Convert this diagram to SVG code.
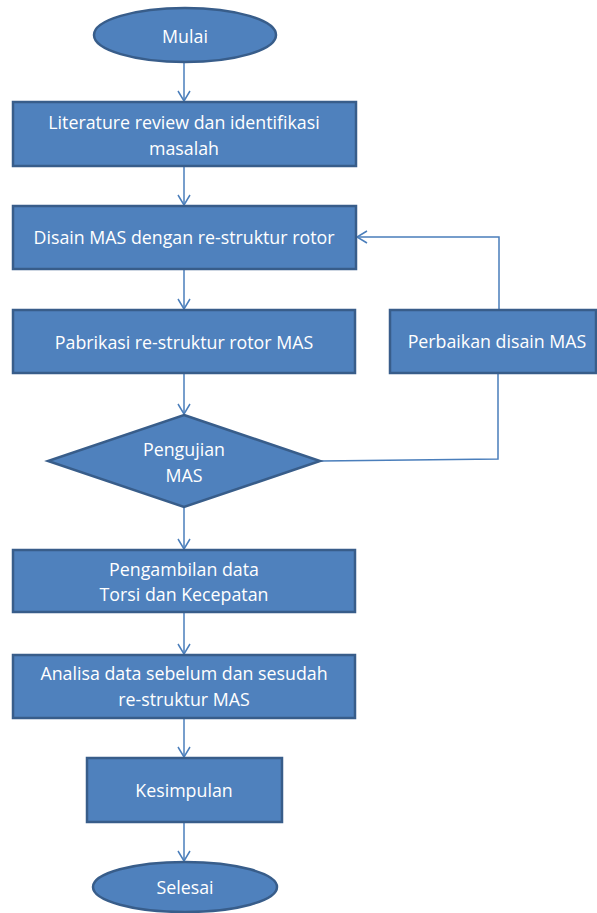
<svg xmlns="http://www.w3.org/2000/svg" width="597" height="913" viewBox="0 0 597 913">
<style>
.n{fill:#4f81bd;stroke:#385d8a;stroke-width:2.5}
.t{font-family:"Open Sans","Noto Sans",sans-serif;font-size:17.8px;fill:#ffffff;text-anchor:middle}
.c{fill:none;stroke:#4a7ebb;stroke-width:1.5}
</style>
<defs>
<marker id="ah" markerUnits="userSpaceOnUse" markerWidth="14" markerHeight="16" refX="11" refY="7" orient="auto">
<path d="M1,1 L11,7 L1,13" fill="none" stroke="#4a7ebb" stroke-width="1.5"/>
</marker>
</defs>
<rect width="597" height="913" fill="#ffffff"/>
<g id="connectors">
<line class="c" x1="184" y1="62" x2="184" y2="101" marker-end="url(#ah)"/>
<line class="c" x1="184" y1="166" x2="184" y2="205" marker-end="url(#ah)"/>
<line class="c" x1="184" y1="269" x2="184" y2="309" marker-end="url(#ah)"/>
<line class="c" x1="184" y1="373" x2="184" y2="414" marker-end="url(#ah)"/>
<line class="c" x1="184" y1="507" x2="184" y2="549" marker-end="url(#ah)"/>
<line class="c" x1="184" y1="612" x2="184" y2="654" marker-end="url(#ah)"/>
<line class="c" x1="184" y1="718" x2="184" y2="757" marker-end="url(#ah)"/>
<line class="c" x1="184" y1="822" x2="184" y2="861" marker-end="url(#ah)"/>
<polyline class="c" points="499,310 499,237 357,237" marker-end="url(#ah)"/>
<polyline class="c" points="321,461 498,459 498,373"/>
</g>
<g id="mulai">
<ellipse class="n" cx="185" cy="35" rx="91" ry="27"/>
<text class="t" x="185" y="43">Mulai</text>
</g>
<g id="literature">
<rect class="n" x="13" y="102" width="343" height="64"/>
<text class="t" x="184" y="129">Literature review dan identifikasi</text>
<text class="t" x="184" y="155">masalah</text>
</g>
<g id="disain">
<rect class="n" x="13" y="206" width="343" height="63"/>
<text class="t" x="184" y="244">Disain MAS dengan re-struktur rotor</text>
</g>
<g id="pabrikasi">
<rect class="n" x="13" y="310" width="342" height="63"/>
<text class="t" x="184" y="349">Pabrikasi re-struktur rotor MAS</text>
</g>
<g id="perbaikan">
<rect class="n" x="390" y="310" width="206" height="63"/>
<text class="t" x="497" y="348">Perbaikan disain MAS</text>
</g>
<g id="pengujian">
<polygon class="n" points="184,415 320,461 184,507 48,461"/>
<text class="t" x="184" y="456">Pengujian</text>
<text class="t" x="184" y="482">MAS</text>
</g>
<g id="pengambilan">
<rect class="n" x="13" y="550" width="342" height="62"/>
<text class="t" x="184" y="576">Pengambilan data</text>
<text class="t" x="184" y="601">Torsi dan Kecepatan</text>
</g>
<g id="analisa">
<rect class="n" x="13" y="655" width="342" height="63"/>
<text class="t" x="184" y="680">Analisa data sebelum dan sesudah</text>
<text class="t" x="184" y="706">re-struktur MAS</text>
</g>
<g id="kesimpulan">
<rect class="n" x="87" y="758" width="195" height="64"/>
<text class="t" x="184" y="797">Kesimpulan</text>
</g>
<g id="selesai">
<ellipse class="n" cx="185" cy="887" rx="92" ry="25"/>
<text class="t" x="185" y="894">Selesai</text>
</g>
</svg>
